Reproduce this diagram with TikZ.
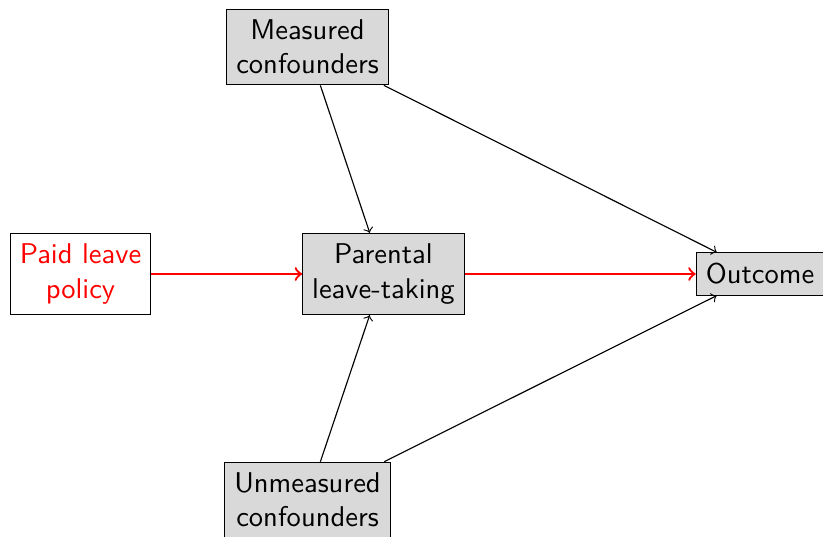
\documentclass[tikz,border=0pt]{standalone}
\begin{document}
\begin{tikzpicture}[x=0.35pt,y=-0.35pt, font=\sffamily,
  box/.style={draw, fill=gray!30, align=center, inner ysep=3.7pt},
  redbox/.style={draw, text=red, align=center, inner ysep=3.7pt},
  arr/.style={->},
  redarr/.style={->, red, thick}]
\useasboundingbox (0,0) rectangle (823,537);
\node[box] (mc) at (307.5,47) {Measured\\confounders};
\node[box] (pl) at (383.5,274) {Parental\\leave-taking};
\node[redbox] (pp) at (80.5,274) {Paid leave\\policy};
\node[box] (out) at (760,274) {Outcome};
\node[box] (uc) at (307.5,500) {Unmeasured\\confounders};
\draw[arr] (mc) -- (pl);
\draw[arr] (mc) -- (out);
\draw[arr] (uc) -- (pl);
\draw[arr] (uc) -- (out);
\draw[redarr] (pp) -- (pl);
\draw[redarr] (pl) -- (out);
\end{tikzpicture}
\end{document}
